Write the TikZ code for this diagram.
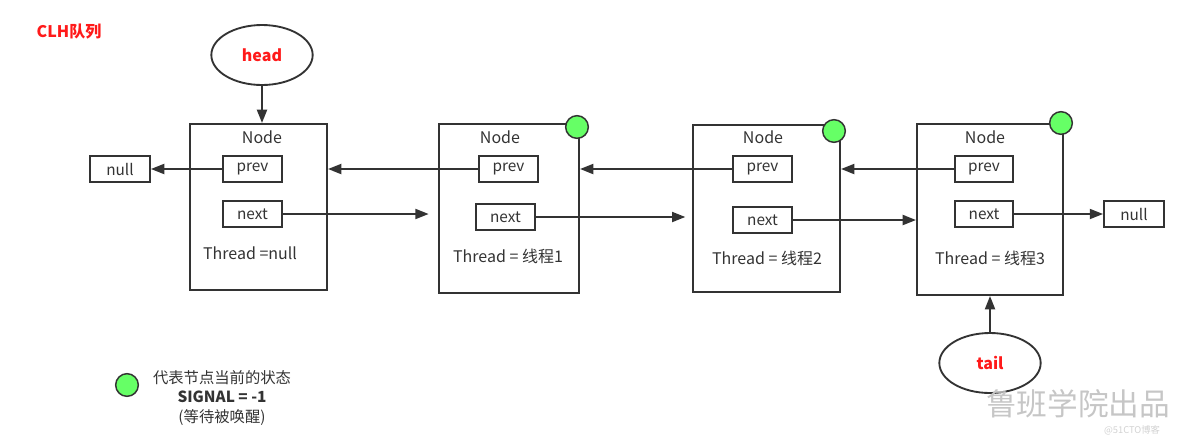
\documentclass[tikz,border=0pt]{standalone}
\usepackage{fontspec}
\setmainfont{Noto Sans CJK SC}
\usepackage{xcolor}
\usepackage{tikz}
\usetikzlibrary{shapes.geometric, arrows.meta, positioning}

\definecolor{linegray}{HTML}{333333}
\definecolor{stategreen}{HTML}{66FF66}
\definecolor{markred}{HTML}{FF1A1A}

\begin{document}
\begin{tikzpicture}[x=0.75pt, y=-0.75pt]
		\tikzset{
			every node/.style={text=linegray},
			>={Triangle[length=10pt,width=7.5pt]},
			nodebox/.style={rectangle, draw=linegray, line width=1.5pt, inner sep=0pt},
			field/.style={rectangle, draw=linegray, line width=1.4pt, minimum width=44pt,
			minimum height=19.5pt, inner sep=0pt, font=\fontsize{11.5}{13}\selectfont},
			title/.style={font=\fontsize{12}{14}\selectfont},
			pointer/.style={ellipse, draw=linegray, line width=1.4pt, minimum width=76pt,
			minimum height=45pt, text=markred, font=\fontsize{12}{14}\selectfont\bfseries},
			state/.style={circle, draw=linegray, line width=1.1pt, fill=stategreen,
			minimum size=17pt, inner sep=0pt},
			link/.style={->, draw=linegray, line width=1.5pt}
		}
		\useasboundingbox (0,0) rectangle (1184,437);

		\node[text=markred, font=\fontsize{12}{14}\selectfont\bfseries] (caption) at (69,32) {CLH队列};

		% nodes of the queue
		\node[nodebox, minimum width=102.75pt, minimum height=124.5pt] (n1) at (258.5,207) {};
		\node[nodebox, minimum width=105pt, minimum height=126.75pt] (n2) at (509,208.5) {};
		\node[nodebox, minimum width=110.25pt, minimum height=125.25pt] (n3) at (766.5,208.5) {};
		\node[nodebox, minimum width=109.5pt, minimum height=128.25pt] (n4) at (990,209.5) {};

		\node[title] (n1title) at (262,137) {Node};
		\node[title] (n2title) at (500,137) {Node};
		\node[title] (n3title) at (763,137) {Node};
		\node[title] (n4title) at (985,137) {Node};

		\node[field] (n1prev) at (252.5,169) {prev};
		\node[field] (n1next) at (252.5,214) {next};
		\node[field] (n2prev) at (508.5,169) {prev};
		\node[field] (n2next) at (505.5,217) {next};
		\node[field] (n3prev) at (762.5,169) {prev};
		\node[field] (n3next) at (762.5,220) {next};
		\node[field] (n4prev) at (984,169) {prev};
		\node[field] (n4next) at (984,214) {next};

		\node[title] (n1thread) at (250,253) {Thread =null};
		\node[title] (n2thread) at (508,256) {Thread = 线程1};
		\node[title] (n3thread) at (767,258) {Thread = 线程2};
		\node[title] (n4thread) at (990,258) {Thread = 线程3};

		\node[field, minimum width=45pt] (nullleft) at (120,169) {null};
		\node[field, minimum width=45pt] (nullright) at (1134,214) {null};

		\node[state] (n2state) at (577,127) {};
		\node[state] (n3state) at (834,131) {};
		\node[state] (n4state) at (1061,123) {};

		\node[pointer] (head) at (262,55) {head};
		\node[pointer] (tail) at (990,363) {tail};

		% links
		\draw[link](head.south) -- (head.south |- n1.north);
		\draw[link](tail.north) -- (tail.north |- n4.south);
		\draw[link](n1prev.west) -- (nullleft.east);
		\draw[link, shorten >=7pt](n1next.east) -- (n1next.east -| n2.west);
		\draw[link](n2prev.west) -- (n2prev.west -| n1.east);
		\draw[link, shorten >=5pt](n2next.east) -- (n2next.east -| n3.west);
		\draw[link](n3prev.west) -- (n3prev.west -| n2.east);
		\draw[link](n3next.east) -- (n3next.east -| n4.west);
		\draw[link](n4prev.west) -- (n4prev.west -| n3.east);
		\draw[link](n4next.east) -- (nullright.west);

		% legend
		\node[state] (legend) at (127,385) {};
		\node[font=\fontsize{11.5}{14.5}\selectfont, align=center] (legendtext) at (222,398)
			{代表节点当前的状态\\\textbf{SIGNAL = -1}\\(等待被唤醒)};

		\node[text=gray!45, font=\fontsize{23}{26}\selectfont] (mark) at (1078,404) {鲁班学院出品};
		\node[text=gray!35, font=\fontsize{7}{8}\selectfont] (site) at (1132,430) {@51CTO博客};
	\end{tikzpicture}
\end{document}
